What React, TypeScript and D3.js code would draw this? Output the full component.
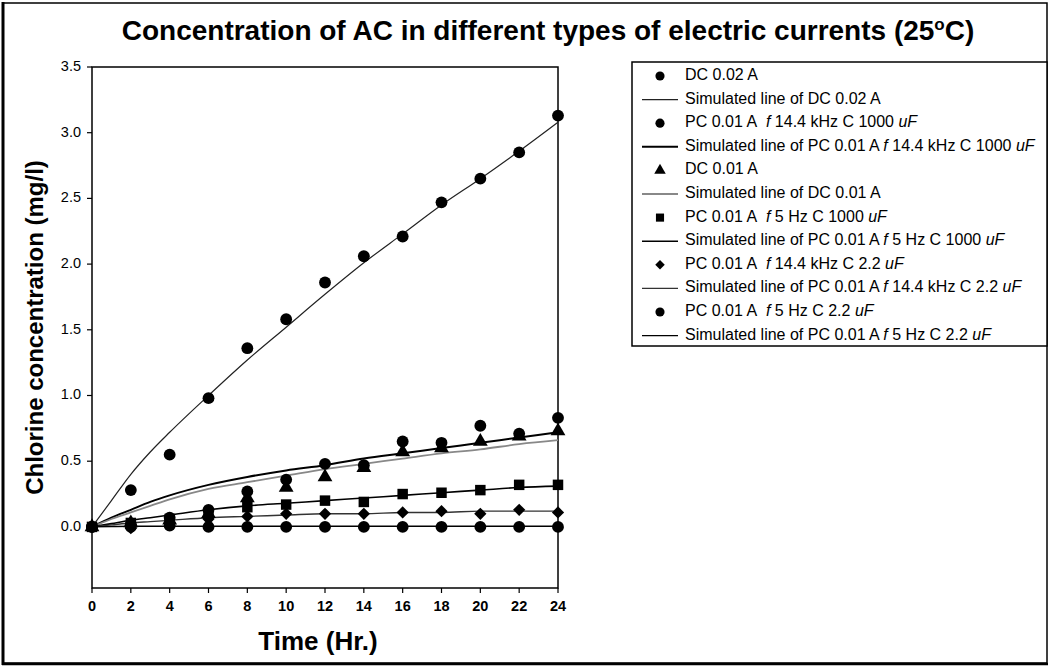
import React from "react";
import * as d3 from "d3";

const hours = [0, 2, 4, 6, 8, 10, 12, 14, 16, 18, 20, 22, 24];
const xTicks = [0, 2, 4, 6, 8, 10, 12, 14, 16, 18, 20, 22, 24];
const yTicks = [0, 0.5, 1.0, 1.5, 2.0, 2.5, 3.0, 3.5];

// measured points
const dc002 = [0, 0.28, 0.55, 0.98, 1.36, 1.58, 1.86, 2.06, 2.21, 2.47, 2.65, 2.85, 3.13];
const pc144k1000 = [0, 0.02, 0.07, 0.13, 0.27, 0.36, 0.48, 0.47, 0.65, 0.64, 0.77, 0.71, 0.83];
const dc001 = [0, 0.03, 0.05, 0.1, 0.22, 0.3, 0.38, 0.45, 0.57, 0.6, 0.65, 0.69, 0.73];
const pc5hz1000 = [0, 0.03, 0.06, 0.1, 0.15, 0.17, 0.2, 0.19, 0.25, 0.26, 0.28, 0.32, 0.32];
const pc144k22 = [0, -0.01, 0.03, 0.06, 0.08, 0.1, 0.1, 0.1, 0.11, 0.12, 0.1, 0.13, 0.11];
const pc5hz22 = [0, 0, 0.01, 0, 0, 0, 0, 0, 0, 0, 0, 0, 0];

// simulated lines
const simHours = [0, 1, 2, 3, 4, 6, 8, 10, 12, 14, 16, 18, 20, 22, 24];
const simDc002 = [0, 0.2, 0.4, 0.57, 0.72, 1.0, 1.27, 1.52, 1.77, 2.01, 2.23, 2.45, 2.65, 2.86, 3.08];
const simPc144k1000 = [0, 0.07, 0.13, 0.19, 0.24, 0.32, 0.38, 0.43, 0.47, 0.52, 0.56, 0.6, 0.64, 0.68, 0.72];
const simDc001 = [0, 0.06, 0.11, 0.16, 0.21, 0.29, 0.34, 0.39, 0.44, 0.48, 0.52, 0.56, 0.59, 0.63, 0.66];
const simPc5hz1000 = [0, 0.025, 0.05, 0.07, 0.09, 0.13, 0.16, 0.18, 0.2, 0.22, 0.24, 0.26, 0.28, 0.3, 0.31];
const simPc144k22 = [0, 0.015, 0.03, 0.04, 0.05, 0.07, 0.08, 0.09, 0.1, 0.1, 0.11, 0.11, 0.12, 0.12, 0.12];
const simPc5hz22 = [0, 0.003, 0.005, 0.005, 0.005, 0.005, 0.005, 0.005, 0.005, 0.005, 0.005, 0.005, 0.005, 0.005, 0.005];

const legendLabels = [
  "DC 0.02 A",
  "Simulated line of DC 0.02 A",
  "PC 0.01 A  |f| 14.4 kHz C 1000 |uF|",
  "Simulated line of PC 0.01 A |f| 14.4 kHz C 1000 |uF|",
  "DC 0.01 A",
  "Simulated line of DC 0.01 A",
  "PC 0.01 A  |f| 5 Hz C 1000 |uF|",
  "Simulated line of PC 0.01 A |f| 5 Hz C 1000 |uF|",
  "PC 0.01 A  |f| 14.4 kHz C 2.2 |uF|",
  "Simulated line of PC 0.01 A |f| 14.4 kHz C 2.2 |uF|",
  "PC 0.01 A  |f| 5 Hz C 2.2 |uF|",
  "Simulated line of PC 0.01 A |f| 5 Hz C 2.2 |uF|",
];

const W = 1050;
const H = 668;
const left = 92;
const right = 558;
const top = 67;
const bottom = 588;

const x = d3.scaleLinear().domain([0, 24]).range([left, right]);
const y = d3.scaleLinear().domain([-0.465, 3.5]).range([bottom, top]);

type Series = {
  pts: number[];
  sim: number[];
  symbol: d3.SymbolType;
  size: number;
  rotate: number;
  lineColor: string;
  lineWidth: number;
};

const series: Series[] = [
  { pts: dc002, sim: simDc002, symbol: d3.symbolCircle, size: 110, rotate: 0, lineColor: "#222", lineWidth: 1.2 },
  { pts: pc144k1000, sim: simPc144k1000, symbol: d3.symbolCircle, size: 110, rotate: 0, lineColor: "#000", lineWidth: 2 },
  { pts: dc001, sim: simDc001, symbol: d3.symbolTriangle, size: 95, rotate: 0, lineColor: "#888", lineWidth: 1.8 },
  { pts: pc5hz1000, sim: simPc5hz1000, symbol: d3.symbolSquare, size: 110, rotate: 0, lineColor: "#000", lineWidth: 1.6 },
  { pts: pc144k22, sim: simPc144k22, symbol: d3.symbolSquare, size: 75, rotate: 45, lineColor: "#333", lineWidth: 1.4 },
  { pts: pc5hz22, sim: simPc5hz22, symbol: d3.symbolCircle, size: 110, rotate: 0, lineColor: "#000", lineWidth: 1.4 },
];

const line = d3
  .line<number>()
  .x((_, i) => x(simHours[i]))
  .y((d) => y(d))
  .curve(d3.curveMonotoneX);

function LegendText({ text, xPos, yPos }: { text: string; xPos: number; yPos: number }) {
  const parts = text.split("|");
  return (
    <text x={xPos} y={yPos} fontSize={16} fontFamily="Liberation Sans, Arial, sans-serif" dominantBaseline="middle">
      {parts.map((p, i) => (
        <tspan key={i} fontStyle={i % 2 === 1 ? "italic" : "normal"}>
          {p.replace(/ {2}/g, "\u00a0 ")}
        </tspan>
      ))}
    </text>
  );
}

export default function App() {
  const legX = 632;
  const legY = 62;
  const legW = 415;
  const legH = 284;
  const rowH = 23.6;
  const fontFam = "Liberation Sans, Arial, sans-serif";

  return (
    <svg width={W} height={H} style={{ position: "absolute", left: 0, top: 0, background: "#fff" }}>
      <rect x={0} y={0} width={W} height={H} fill="#fff" />
      {/* outer frame */}
      <rect x={3} y={3} width={1044} height={660} fill="none" stroke="#000" strokeWidth={1.5} />
      <line x1={3} y1={2} x2={3} y2={665} stroke="#000" strokeWidth={3} />
      <line x1={2} y1={664} x2={1048} y2={664} stroke="#000" strokeWidth={2.5} />

      {/* title */}
      <text x={548} y={40} textAnchor="middle" fontSize={28} fontWeight="bold" fontFamily={fontFam}>
        Concentration of AC in different types of electric currents (25
        <tspan dy={-10} fontSize={17}>o</tspan>
        <tspan dy={10}>C)</tspan>
      </text>

      {/* plot box */}
      <rect x={left} y={top} width={right - left} height={bottom - top} fill="none" stroke="#000" strokeWidth={1.5} />

      {/* y axis ticks */}
      {yTicks.map((t) => (
        <g key={t}>
          <line x1={left - 5} x2={left} y1={y(t)} y2={y(t)} stroke="#000" strokeWidth={1.2} />
          <text x={left - 11} y={y(t)} textAnchor="end" dominantBaseline="middle" fontSize={14.5} fontFamily={fontFam}>
            {t.toFixed(1)}
          </text>
        </g>
      ))}

      {/* x axis ticks */}
      {xTicks.map((t) => (
        <g key={t}>
          <line x1={x(t)} x2={x(t)} y1={bottom} y2={bottom + 5} stroke="#000" strokeWidth={1.2} />
          <text x={x(t)} y={bottom + 19} textAnchor="middle" dominantBaseline="middle" fontSize={14.5} fontWeight="bold" fontFamily={fontFam}>
            {t}
          </text>
        </g>
      ))}

      {/* axis titles */}
      <text x={318} y={650} textAnchor="middle" fontSize={26} fontWeight="bold" fontFamily={fontFam}>
        Time (Hr.)
      </text>
      <text
        transform={`translate(43, ${(top + bottom) / 2}) rotate(-90)`}
        textAnchor="middle"
        fontSize={24}
        fontWeight="bold"
        fontFamily={fontFam}
      >
        Chlorine concentration (mg/l)
      </text>

      {/* simulated lines */}
      {series.map((s, i) => (
        <path key={"l" + i} d={line(s.sim) || ""} fill="none" stroke={s.lineColor} strokeWidth={s.lineWidth} />
      ))}

      {/* markers */}
      {series.map((s, i) =>
        s.pts.map((v, j) => (
          <path
            key={"m" + i + "-" + j}
            d={d3.symbol().type(s.symbol).size(s.size)() || ""}
            transform={`translate(${x(hours[j])},${y(v)}) rotate(${s.rotate})`}
            fill="#000"
          />
        ))
      )}

      {/* legend */}
      <rect x={legX} y={legY} width={legW} height={legH} fill="#fff" stroke="#000" strokeWidth={1.5} />
      {legendLabels.map((lab, i) => {
        const cy = legY + 14 + i * rowH;
        const s = series[Math.floor(i / 2)];
        const isLine = i % 2 === 1;
        return (
          <g key={"lg" + i}>
            {isLine ? (
              <line x1={legX + 10} x2={legX + 46} y1={cy} y2={cy} stroke={s.lineColor} strokeWidth={s.lineWidth} />
            ) : (
              <path
                d={d3.symbol().type(s.symbol).size(s.size * 0.6)() || ""}
                transform={`translate(${legX + 28},${cy}) rotate(${s.rotate})`}
                fill="#000"
              />
            )}
            <LegendText text={lab} xPos={legX + 53} yPos={cy} />
          </g>
        );
      })}
    </svg>
  );
}
